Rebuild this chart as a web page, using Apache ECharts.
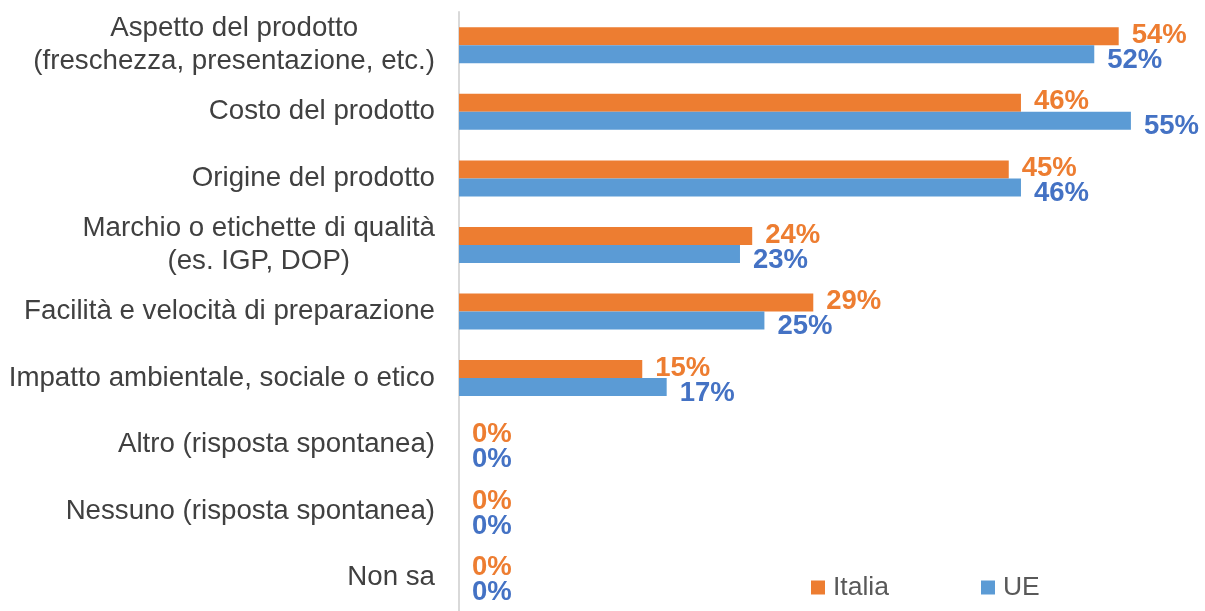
<!DOCTYPE html>
<html>
<head>
<meta charset="utf-8">
<script src="https://cdn.jsdelivr.net/npm/echarts@6/dist/echarts.min.js"></script>
<style>
  html, body { margin: 0; padding: 0; background: #fff; }
  #chart { width: 1205px; height: 611px; }
</style>
</head>
<body>
<div id="chart"></div>
<script>
// categorie (dall'alto verso il basso)
const categories = [
  'Aspetto del prodotto\n(freschezza, presentazione, etc.)',
  'Costo del prodotto',
  'Origine del prodotto',
  'Marchio o etichette di qualità\n(es. IGP, DOP)',
  'Facilità e velocità di preparazione',
  'Impatto ambientale, sociale o etico',
  'Altro (risposta spontanea)',
  'Nessuno (risposta spontanea)',
  'Non sa'
]
// valori in %
const italia = [54, 46, 45, 24, 29, 15, 0, 0, 0]
const ue = [52, 55, 46, 23, 25, 17, 0, 0, 0]

const chart = echarts.init(document.getElementById('chart'))

const option = {
  animation: false,
  textStyle: { fontFamily: 'Liberation Sans, Arial, sans-serif' },
  legend: {
    left: 811,
    top: 574,
    padding: 0,
    itemWidth: 14,
    itemHeight: 14,
    itemGap: 92,
    icon: 'rect',
    textStyle: { fontSize: 26.5, color: '#595959', padding: [0, 0, 0, 3] },
    data: ['Italia', 'UE']
  },
  grid: {
    left: 459,
    top: 12,
    width: 733,
    height: 605
  },
  xAxis: {
    type: 'value',
    min: 0,
    max: 60,
    show: false
  },
  yAxis: {
    type: 'category',
    inverse: true,
    data: categories,
    axisLine: { show: true, lineStyle: { color: '#D9D9D9', width: 2 } },
    axisTick: { show: false },
    axisLabel: {
      margin: 24,
      align: 'right',
      // righe centrate tra loro, blocco allineato a destra
      formatter: function (value) {
        return value.split('\n').map(function (l) { return '{c|' + l + '}' }).join('\n')
      },
      rich: {
        c: {
          align: 'center',
          fontSize: 27.7,
          lineHeight: 33,
          color: '#404040',
          fontFamily: 'Liberation Sans, Arial, sans-serif'
        }
      }
    },
    splitLine: { show: false }
  },
  series: [{
    name: 'Italia',
    type: 'bar',
    data: italia,
    barWidth: 18,
    barGap: '0%',
    itemStyle: { color: '#ED7D31' },
    label: {
      show: true,
      position: 'right',
      distance: 13,
      offset: [0, -1],
      formatter: '{c}%',
      fontSize: 27.5,
      fontWeight: 'bold',
      color: '#ED7D31'
    }
  }, {
    name: 'UE',
    type: 'bar',
    data: ue,
    barWidth: 18,
    itemStyle: { color: '#5B9BD5' },
    label: {
      show: true,
      position: 'right',
      distance: 13,
      offset: [0, 6],
      formatter: '{c}%',
      fontSize: 27.5,
      fontWeight: 'bold',
      color: '#4472C4'
    }
  }]
}
chart.setOption(option)
</script>
</body>
</html>
